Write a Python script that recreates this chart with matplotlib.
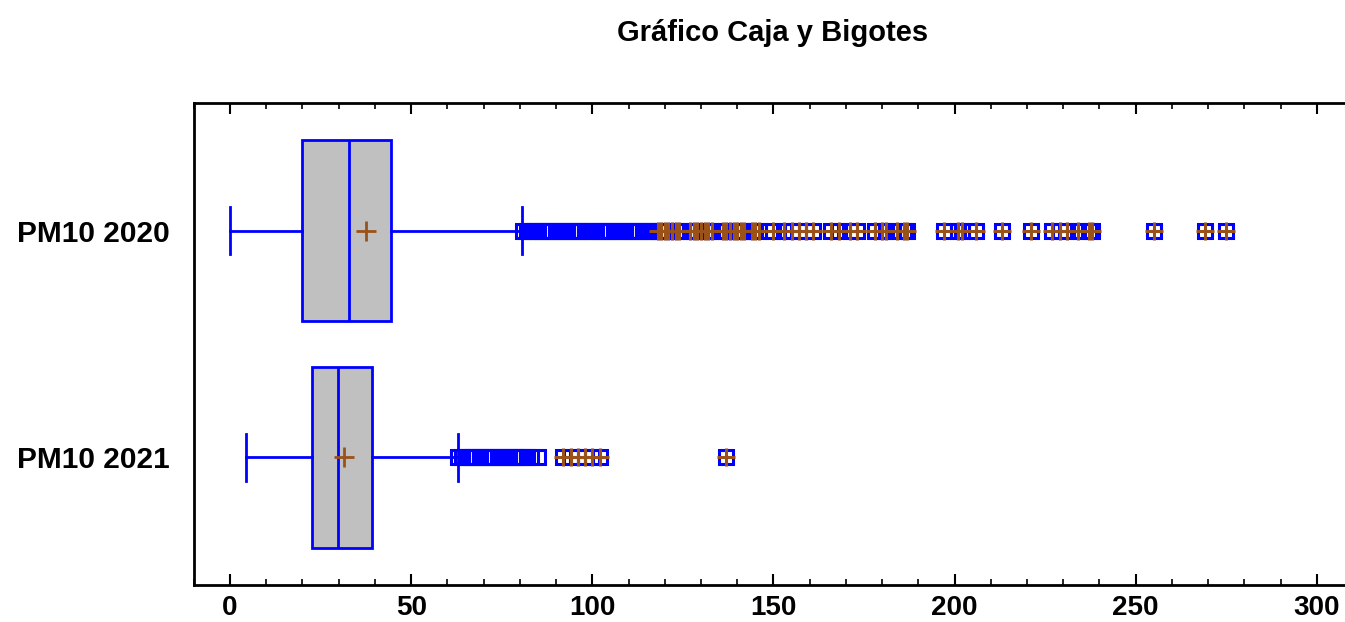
import matplotlib

matplotlib.use("Agg")

import matplotlib.pyplot as plt
from matplotlib.ticker import MultipleLocator

plt.rcParams["font.family"] = ["Liberation Sans", "DejaVu Sans"]

# Series labels (bottom to top)
series_labels = ["PM10 2021", "PM10 2020"]

# Box statistics: [2021, 2020]
whisker_low = [4.5, 0.0]
q1 = [22.7, 20.0]
median = [29.7, 32.8]
q3 = [39.1, 44.5]
whisker_high = [62.9, 80.6]
means = [31.4, 37.6]

# Outside points (beyond 1.5 IQR), drawn as squares
outside_2020 = [81, 82, 83, 84, 85, 86, 87, 88, 89, 90, 91, 92, 93, 94, 95, 96,
                97, 98, 99, 100, 101, 102, 103, 104, 105, 106, 107, 108, 109,
                110, 111, 112, 113, 114, 115, 116, 117]
outside_2021 = [63, 64, 65, 66, 67, 68, 69, 70, 71, 72, 73, 74, 75, 76, 77, 78,
                79, 80, 81, 82, 83, 85]

# Far outside points (beyond 3 IQR), squares with a plus sign
far_2020 = [118, 119, 120, 121, 122, 123, 124, 127, 128, 129, 130, 131, 132,
            133, 136, 137, 138, 139, 140, 141, 142, 144, 145, 146, 150, 153,
            155, 157, 159, 161, 166, 168, 171, 173, 178, 180, 181, 184, 186,
            187, 197, 201, 202, 206, 213, 221, 227, 229, 231, 234, 237, 238,
            255, 269, 275]
far_2021 = [92, 94, 96, 98, 100, 102, 137]

BLUE = "#0000FF"
BROWN = "#9A5218"
GRAY = "#C0C0C0"

fig = plt.figure(figsize=(13.45, 6.22), dpi=100)
ax = fig.add_axes([0.1441, 0.0595, 0.8619, 0.7754])

stats = []
for i in range(len(series_labels)):
    stats.append({
        "whislo": whisker_low[i],
        "q1": q1[i],
        "med": median[i],
        "q3": q3[i],
        "whishi": whisker_high[i],
        "mean": means[i],
        "fliers": [],
    })

positions = [1, 2]
ax.bxp(
    stats,
    positions=positions,
    widths=0.8,
    capwidths=0.206,
    orientation="horizontal",
    patch_artist=True,
    showmeans=True,
    boxprops=dict(facecolor=GRAY, edgecolor=BLUE, linewidth=2),
    medianprops=dict(color=BLUE, linewidth=2),
    whiskerprops=dict(color=BLUE, linewidth=2),
    capprops=dict(color=BLUE, linewidth=2),
    meanprops=dict(marker="+", markeredgecolor=BROWN, markersize=14,
                   markeredgewidth=2),
)

outside = [outside_2021, outside_2020]
far = [far_2021, far_2020]
for pos, near_vals, far_vals in zip(positions, outside, far):
    all_vals = near_vals + far_vals
    ax.plot(all_vals, [pos] * len(all_vals), linestyle="none", marker="s",
            markersize=9.5, markerfacecolor="none", markeredgecolor=BLUE,
            markeredgewidth=2.2, zorder=3)
    ax.plot(far_vals, [pos] * len(far_vals), linestyle="none", marker="+",
            markersize=12.5, markeredgecolor=BROWN, markeredgewidth=2.2,
            zorder=4)

ax.set_xlim(-10, 310)
ax.set_ylim(0.436, 2.564)
ax.set_yticks(positions)
ax.set_yticklabels(series_labels, fontsize=21.5, fontweight="bold")
ax.tick_params(axis="y", length=0, pad=17)

ax.xaxis.set_major_locator(MultipleLocator(50))
ax.xaxis.set_minor_locator(MultipleLocator(10))
ax.tick_params(axis="x", which="major", direction="in", top=True, length=8,
               width=1.5, labelsize=20, pad=7)
ax.tick_params(axis="x", which="minor", direction="in", top=True, length=4.5,
               width=1.2)
for label in ax.get_xticklabels():
    label.set_fontweight("bold")

for side in ["left", "bottom", "top"]:
    ax.spines[side].set_linewidth(2)
ax.spines["right"].set_visible(False)

fig.suptitle("Gráfico Caja y Bigotes", x=0.5743, y=0.97, fontsize=21,
             fontweight="bold")

fig.savefig("out.png", dpi=100)
plt.close(fig)
